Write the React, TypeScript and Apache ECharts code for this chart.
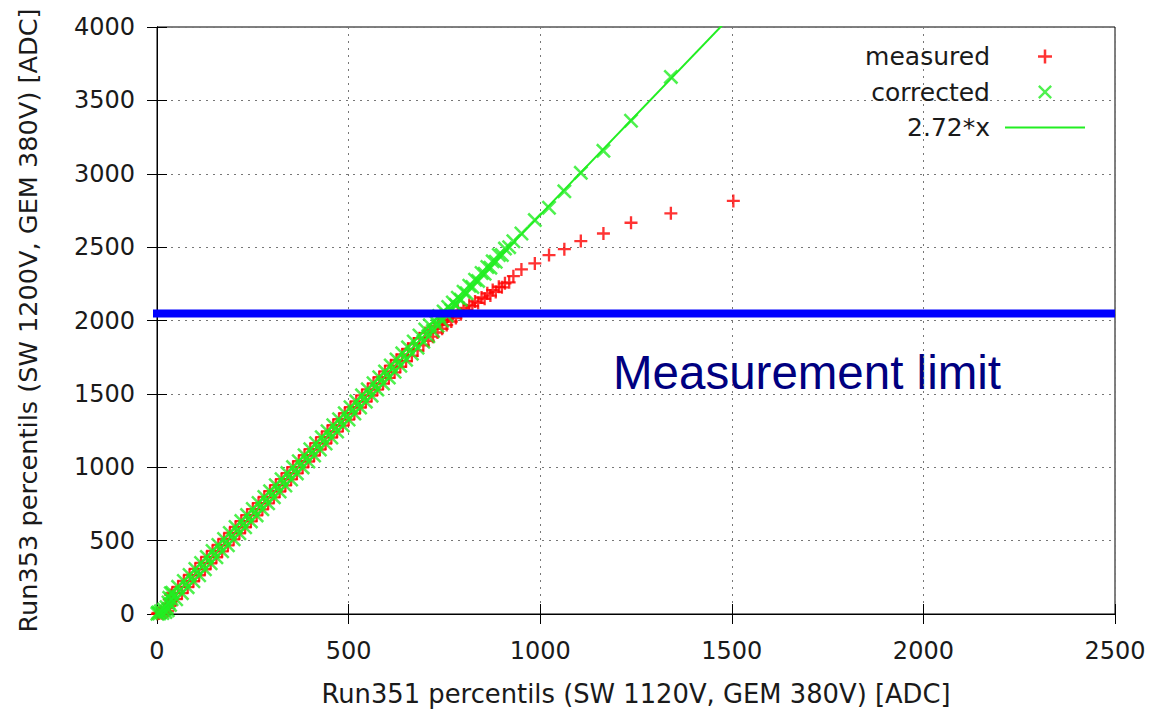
import React, { useEffect, useRef } from "react";
import * as echarts from "echarts";

// ---- data ----
const xTicks = { min: 0, max: 2500, interval: 500 };
const yTicks = { min: 0, max: 4000, interval: 500 };

// cluster near the origin
const originX = [1, 3, 6, 10, 14, 18, 22, 25, 28, 30, 32, 34, 36, 38];
const originMeasured = [1, 8, 3, 15, 5, 25, 10, 40, 20, 70, 100, 55, 130, 90];
const originCorrected = [2, 10, 4, 18, 7, 30, 14, 46, 26, 78, 110, 62, 142, 100];

// channel A percentiles
const xA = [40, 55, 70, 85, 100, 115, 130, 145, 160, 175, 190, 205, 220, 235, 250, 265, 280, 295, 310, 325, 340, 355, 370, 385, 400, 415, 430, 445, 460, 475, 490, 505, 520, 535, 550, 565, 580, 595, 610, 625, 640, 655, 670, 685, 700, 712, 724, 736, 748, 760, 772, 785, 800, 815, 830, 847, 862, 876, 892, 908, 930, 951, 986, 1023, 1063, 1106, 1165, 1237, 1341, 1504];
const measuredA = [144, 185, 225, 266, 307, 348, 389, 429, 470, 511, 552, 593, 633, 674, 715, 756, 797, 837, 878, 919, 960, 1001, 1041, 1082, 1123, 1164, 1205, 1245, 1286, 1327, 1368, 1409, 1449, 1490, 1531, 1572, 1613, 1653, 1692, 1731, 1769, 1807, 1843, 1879, 1914, 1937, 1961, 1984, 2007, 2027, 2047, 2067, 2085, 2105, 2130, 2157, 2185, 2207, 2230, 2253, 2302, 2348, 2389, 2446, 2486, 2541, 2593, 2666, 2730, 2815];
const correctedA = [144, 185, 225, 266, 307, 348, 389, 429, 470, 511, 552, 593, 633, 674, 715, 756, 797, 837, 878, 919, 960, 1001, 1041, 1082, 1123, 1164, 1205, 1245, 1286, 1327, 1368, 1409, 1449, 1490, 1531, 1572, 1613, 1653, 1694, 1735, 1776, 1817, 1857, 1898, 1939, 1968, 1999, 2030, 2062, 2092, 2123, 2155, 2196, 2237, 2278, 2324, 2365, 2403, 2446, 2490, 2540, 2593, 2684, 2768, 2880, 3006, 3156, 3361, 3660, 4091];

// channel B percentiles
const xB = [50, 65, 80, 95, 110, 125, 140, 155, 170, 185, 200, 215, 230, 245, 260, 275, 290, 305, 320, 335, 350, 365, 380, 395, 410, 425, 440, 455, 470, 485, 500, 515, 530, 545, 560, 575, 590, 605, 620, 635, 650, 665, 680, 695, 708, 720, 732, 744, 756, 768, 780, 793, 808, 823, 838, 855, 870, 884, 900, 919];
const measuredB = [101, 142, 183, 223, 264, 305, 346, 387, 427, 468, 509, 550, 591, 631, 672, 713, 754, 795, 835, 876, 917, 958, 999, 1039, 1080, 1121, 1162, 1203, 1243, 1284, 1325, 1366, 1407, 1447, 1488, 1529, 1570, 1609, 1647, 1685, 1723, 1760, 1796, 1830, 1862, 1890, 1918, 1944, 1969, 1993, 2017, 2042, 2070, 2098, 2120, 2148, 2170, 2195, 2226, 2260];
const correctedB = [101, 142, 183, 223, 264, 305, 346, 387, 427, 468, 509, 550, 591, 631, 672, 713, 754, 795, 835, 876, 917, 958, 999, 1039, 1080, 1121, 1162, 1203, 1243, 1284, 1325, 1366, 1407, 1447, 1488, 1529, 1570, 1611, 1651, 1692, 1733, 1774, 1815, 1855, 1893, 1928, 1964, 1999, 2034, 2069, 2105, 2142, 2185, 2228, 2270, 2318, 2360, 2400, 2446, 2500];

const fitSlope = 2.72;
const fitX = [0, 2500];
const measurementLimit = 2048;
const limitLineX = [-23, 2500];

const seriesNames = ["measured", "corrected", "2.72*x"];
const xAxisName = "Run351 percentils (SW 1120V, GEM 380V) [ADC]";
const yAxisName = "Run353 percentils (SW 1200V, GEM 380V) [ADC]";
const limitLabel = "Measurement limit";

const pairs = (xs: number[], ys: number[]) => xs.map((x, i) => [x, ys[i]]);

const PLUS = "path://M4.1,0H5.9V4.1H10V5.9H5.9V10H4.1V5.9H0V4.1H4.1Z";
const CROSS = "path://M0,1.2L1.2,0L5,3.8L8.8,0L10,1.2L6.2,5L10,8.8L8.8,10L5,6.2L1.2,10L0,8.8L3.8,5Z";
const LINE_ICON = "path://M0,0H80V2H0Z";
const FONT = "DejaVu Sans";
const TEXT = "#1a1a1a";
const GREEN = "#22ee22";

export default function App() {
  const ref = useRef<HTMLDivElement>(null);
  useEffect(() => {
    if (!ref.current) return;
    const chart = echarts.init(ref.current, null, { renderer: "svg" });
    const measuredData = [
      ...pairs(originX, originMeasured),
      ...pairs(xA, measuredA),
      ...pairs(xB, measuredB),
    ];
    const correctedData = [
      ...pairs(originX, originCorrected),
      ...pairs(xA, correctedA),
      ...pairs(xB, correctedB),
    ];
    const fitData = fitX.map((x) => [x, fitSlope * x]);
    const limitData = limitLineX.map((x) => [x, measurementLimit]);

    const splitStyle = { show: true, lineStyle: { color: "#777", type: [2, 5] as any, width: 1 } };
    const tick = { show: true, inside: true, length: 10, lineStyle: { color: "#000" } };
    const axisLine = { show: true, lineStyle: { color: "#000", width: 1 } };
    const mirrorX = {
      type: "value", position: "top", ...xTicks,
      axisLine, axisTick: tick, axisLabel: { show: false }, splitLine: { show: false },
    };
    const mirrorY = {
      type: "value", position: "right", ...yTicks,
      axisLine, axisTick: tick, axisLabel: { show: false }, splitLine: { show: false },
    };
    const fmt = (v: number) => String(v);

    chart.setOption({
      animation: false,
      backgroundColor: "#fff",
      grid: { left: 157, right: 39, top: 27, bottom: 99, show: true, borderColor: "#000", borderWidth: 1 },
      legend: {
        orient: "vertical",
        right: 64,
        top: 39,
        align: "right",
        itemWidth: 80,
        itemHeight: 14,
        itemGap: 10.5,
        data: [
          { name: seriesNames[0], icon: PLUS },
          { name: seriesNames[1], icon: CROSS },
          { name: seriesNames[2], icon: LINE_ICON },
        ],
        textStyle: { fontSize: 25, fontFamily: FONT, color: TEXT, padding: [0, 10, 0, 0] },
      },
      xAxis: [
        {
          type: "value", ...xTicks,
          name: xAxisName, nameLocation: "middle", nameGap: 67,
          nameTextStyle: { fontSize: 25.8, fontFamily: FONT, color: TEXT },
          axisLine, axisTick: tick,
          axisLabel: { fontSize: 24, fontFamily: FONT, color: TEXT, margin: 25, formatter: fmt },
          splitLine: splitStyle,
        },
        mirrorX,
      ],
      yAxis: [
        {
          type: "value", ...yTicks,
          name: yAxisName, nameLocation: "middle", nameGap: 116,
          nameTextStyle: { fontSize: 25.6, fontFamily: FONT, color: TEXT },
          axisLine, axisTick: tick,
          axisLabel: { fontSize: 24, fontFamily: FONT, color: TEXT, margin: 22, formatter: fmt },
          splitLine: splitStyle,
        },
        mirrorY,
      ],
      series: [
        {
          name: seriesNames[0],
          type: "scatter",
          data: measuredData,
          symbol: PLUS,
          symbolSize: 13,
          itemStyle: { color: "#ff0000" },
          clip: true,
        },
        {
          name: seriesNames[1],
          type: "scatter",
          data: correctedData,
          symbol: CROSS,
          symbolSize: 15,
          itemStyle: { color: GREEN },
          clip: true,
        },
        {
          name: seriesNames[2],
          type: "line",
          data: fitData,
          showSymbol: false,
          symbol: "none",
          lineStyle: { color: GREEN, width: 2 },
          itemStyle: { color: GREEN },
          clip: true,
        },
        {
          name: "limit",
          type: "line",
          data: limitData,
          showSymbol: false,
          symbol: "none",
          silent: true,
          lineStyle: { color: "#0000ff", width: 8 },
          itemStyle: { color: "#0000ff" },
          clip: false,
          z: 5,
        },
      ],
      graphic: [
        {
          type: "text",
          x: 613,
          y: 372,
          style: {
            text: limitLabel,
            fontSize: 47.5,
            fontFamily: "Liberation Sans",
            fill: "#000080",
            verticalAlign: "middle",
          },
        },
      ],
    });
    return () => chart.dispose();
  }, []);
  return (
    <div
      ref={ref}
      style={{ position: "fixed", left: 0, top: 0, width: 1154, height: 713, background: "#fff" }}
    />
  );
}
